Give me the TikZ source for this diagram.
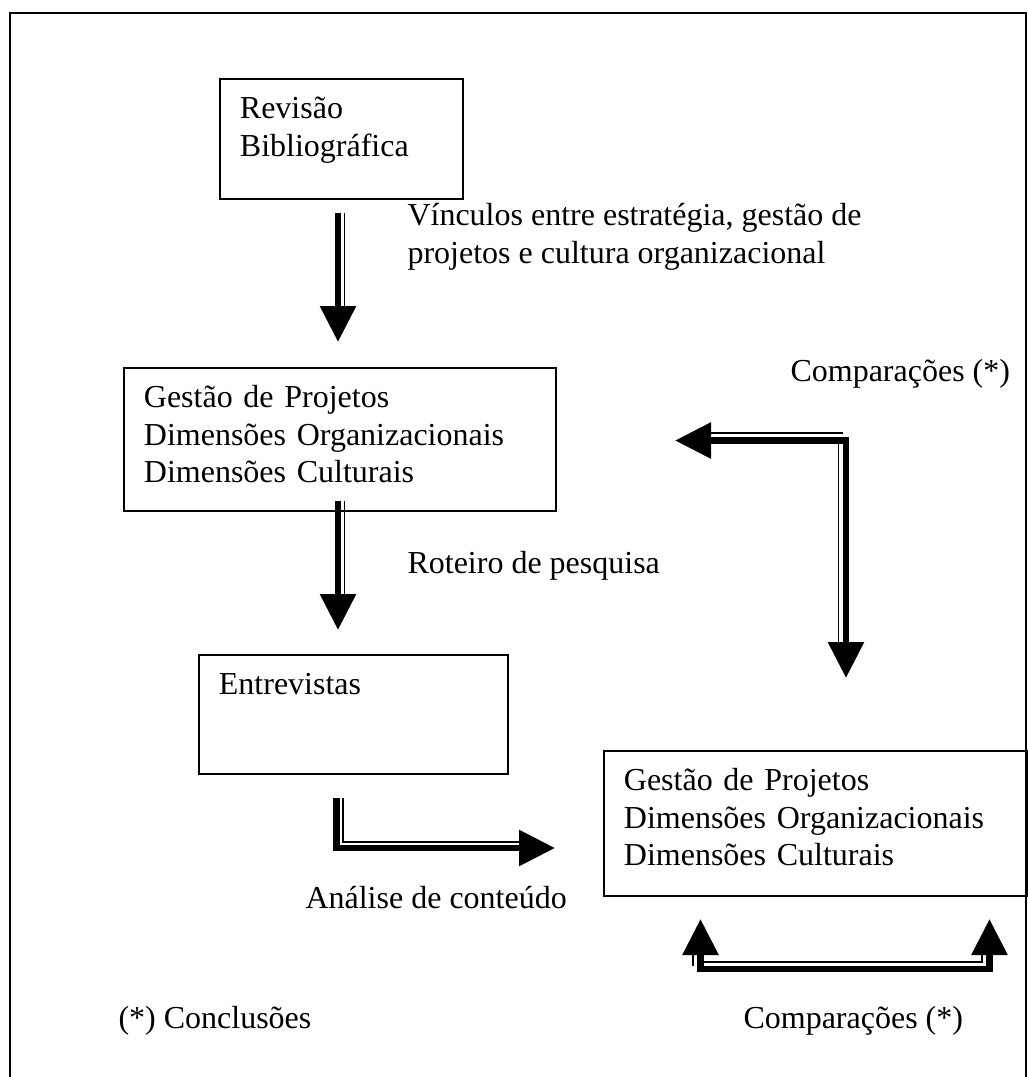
\documentclass[tikz,border=0pt]{standalone}
\usepackage{fontspec}
\setmainfont{Liberation Serif}
\usetikzlibrary{arrows.meta}

\begin{document}
\begin{tikzpicture}[x=0.375pt, y=-0.375pt,
    >={Triangle[length=13.5pt, width=13pt]},
    every node/.style={font=\fontsize{12}{13.9}\selectfont},
    box/.style={draw, line width=0.7pt, anchor=north west, align=left,
        inner xsep=7.5pt, inner ysep=0pt, text height=15pt},
    note/.style={anchor=base west, align=left, inner sep=0pt},
    fatline/.style={line width=2.6pt},
    slimline/.style={line width=0.55pt}]

        \useasboundingbox (0,0) rectangle (1028,1077);

        % Outer frame
        \draw[line width=0.7pt] (10,1077) |- (1026,13) -- (1026,1077);

        % Boxes
        \node[box, text width=76pt, text depth=30pt] (revisao) at (219,78) {Revisão\\Bibliográfica};
        \node[box, text width=147pt, text depth=38.6pt] (gestao) at (123,367) {Gestão de Projetos\\Dimensões Organizacionais\\Dimensões Culturais};
        \node[box, text width=100.9pt, text depth=29.6pt] (entrevistas) at (198,654) {Entrevistas};
        \node[box, text width=143.6pt, text depth=39.4pt] (gestaofim) at (603,750) {Gestão de Projetos\\Dimensões Organizacionais\\Dimensões Culturais};

        % Define arrow points
        \coordinate (a1s) at (338,213);
        \coordinate (a1e) at (338,342);
        \coordinate (a2s) at (338,501);
        \coordinate (a2e) at (338,630);
        \coordinate (a3s) at (336.5,798);
        \coordinate (a3e) at (555,848);
        \coordinate (a4l) at (675,440.5);
        \coordinate (a4c) at (846,440.5);
        \coordinate (a4b) at (846,678);
        \coordinate (b1) at (700.5,919);
        \coordinate (b1c) at (700.5,969);
        \coordinate (b2c) at (989.5,969);
        \coordinate (b2) at (989.5,919);

        % Draw the arrows
        \draw[fatline, ->] (a1s) -- (a1e);
        \draw[slimline] ([xshift=2.4pt]a1s) -- ([xshift=2.4pt, yshift=13.5pt]a1e);
        \draw[fatline, ->] (a2s) -- (a2e);
        \draw[slimline] ([xshift=2.4pt]a2s) -- ([xshift=2.4pt, yshift=13.5pt]a2e);
        \draw[fatline, ->] (a3s) |- (a3e);
        \draw[slimline] ([xshift=2.4pt]a3s) |- ([xshift=-13.5pt, yshift=2.3pt]a3e);
        \draw[fatline, <->] (a4l) -| (a4b);
        \draw[slimline] ([xshift=13.5pt, yshift=2.8pt]a4l) -- ([xshift=-1.1pt, yshift=2.8pt]a4c);
        \draw[slimline] ([xshift=-2.8pt, yshift=-1.3pt]a4c) -- ([xshift=-2.8pt, yshift=13.5pt]a4b);
        \draw[fatline, <->] (b1) -- (b1c) -- (b2c) -- (b2);
        \draw[slimline] ([xshift=-2.8pt, yshift=-13.5pt]b1) -- ([xshift=-2.8pt, yshift=1.1pt]b1c);
        \draw[slimline] ([xshift=1.3pt, yshift=2.6pt]b1c) -- ([xshift=-2.8pt, yshift=2.6pt]b2c) -- ([xshift=-2.8pt, yshift=-13.5pt]b2);

        % Label the arrows
        \node[note] (vinculos) at (407,263) {Vínculos entre estratégia, gestão de\\projetos e cultura organizacional};
        \node[note] (roteiro) at (407,573) {Roteiro de pesquisa};
        \node[note] (analise) at (305,908) {Análise de conteúdo};
        \node[note] (compara) at (790,381) {Comparações (*)};
        \node[note] (comparb) at (743,1028) {Comparações (*)};
        \node[note] (conclusoes) at (118,1028) {(*) Conclusões};

\end{tikzpicture}
\end{document}
